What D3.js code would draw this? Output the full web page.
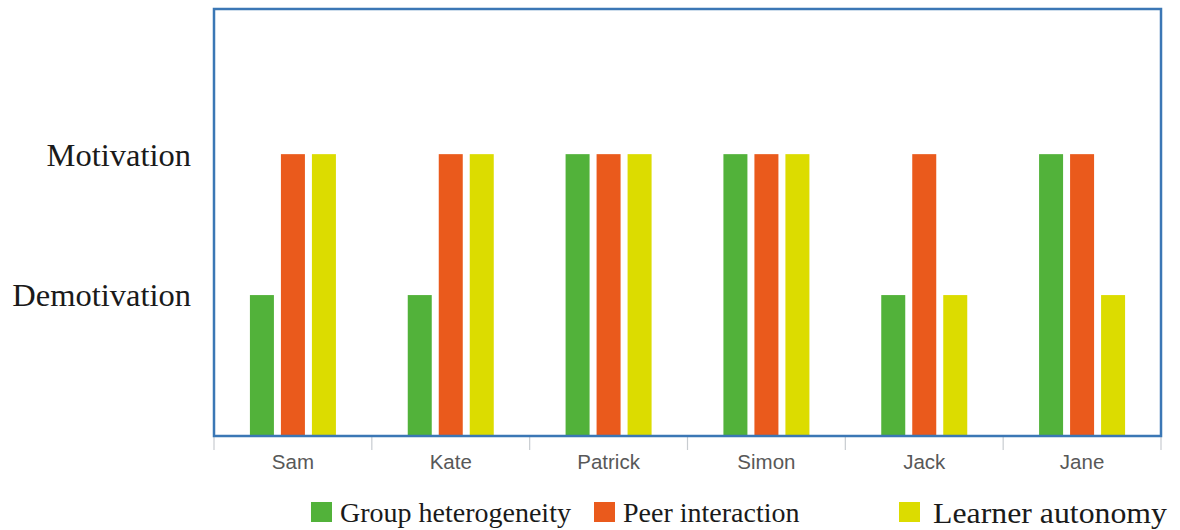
<!DOCTYPE html>
<html>
<head>
<meta charset="utf-8">
<script src="https://cdn.jsdelivr.net/npm/d3@7"></script>
<style>
  html, body { margin: 0; padding: 0; background: #fff; }
  svg { display: block; }
</style>
</head>
<body>
<svg id="chart" width="1180" height="530"></svg>
<script>
// Students and the three factors rated for each of them
const categories = ["Sam", "Kate", "Patrick", "Simon", "Jack", "Jane"];
const seriesNames = ["Group heterogeneity", "Peer interaction", "Learner autonomy"];
// 1 = Demotivation, 2 = Motivation
const groupHeterogeneity = [1, 1, 2, 2, 1, 2];
const peerInteraction    = [2, 2, 2, 2, 2, 2];
const learnerAutonomy    = [2, 2, 2, 2, 1, 1];
const levelValues = [1, 2];
const levelLabels = ["Demotivation", "Motivation"];
const seriesColors = ["#52b23a", "#ea5a1c", "#dcdc00"];

const seriesValues = [groupHeterogeneity, peerInteraction, learnerAutonomy];
const rows = categories.map((c, i) => ({
  name: c,
  values: seriesNames.map((s, j) => ({ key: s, value: seriesValues[j][i], color: seriesColors[j] }))
}));

const svg = d3.select("#chart");
const plot = { left: 214, top: 9, right: 1161, bottom: 436 };

const x = d3.scaleBand().domain(categories).range([plot.left, plot.right]).padding(0);
const groupWidth = 86;
const xi = d3.scaleBand().domain(seriesNames)
  .range([-groupWidth / 2, groupWidth / 2]).paddingInner(7 / 31).paddingOuter(0);
const y = d3.scaleLinear().domain([0, 3.03]).range([plot.bottom, plot.top]);

// Bars
const groups = svg.append("g").selectAll("g").data(rows).join("g")
  .attr("transform", d => `translate(${x(d.name) + x.bandwidth() / 2},0)`);
groups.selectAll("rect").data(d => d.values).join("rect")
  .attr("x", d => xi(d.key))
  .attr("width", xi.bandwidth())
  .attr("y", d => y(d.value))
  .attr("height", d => y(0) - y(d.value))
  .attr("fill", d => d.color);

// Category axis with separators between groups
const axisG = svg.append("g").attr("transform", `translate(0,${plot.bottom})`);
const boundaries = d3.range(categories.length + 1).map(i => plot.left + i * x.step());
axisG.selectAll("line.sep").data(boundaries).join("line")
  .attr("class", "sep")
  .attr("x1", d => d).attr("x2", d => d)
  .attr("y1", 1).attr("y2", 14)
  .attr("stroke", "#c8ccd0").attr("stroke-width", 1.2);
axisG.selectAll("text").data(categories).join("text")
  .attr("x", d => x(d) + x.bandwidth() / 2)
  .attr("y", 33)
  .attr("text-anchor", "middle")
  .attr("font-family", "Liberation Sans, Arial, sans-serif")
  .attr("font-size", 20.5)
  .attr("fill", "#585858")
  .text(d => d);

// Level labels on the left
svg.append("g").selectAll("text").data(levelValues).join("text")
  .attr("x", 191)
  .attr("y", d => y(d))
  .attr("dy", "0.35em")
  .attr("text-anchor", "end")
  .attr("font-family", "Liberation Serif, Times New Roman, serif")
  .attr("font-size", 32.5)
  .attr("fill", "#1a1a1a")
  .text((d, i) => levelLabels[i]);

// Plot frame
svg.append("rect")
  .attr("x", plot.left).attr("y", plot.top)
  .attr("width", plot.right - plot.left)
  .attr("height", plot.bottom - plot.top)
  .attr("fill", "none")
  .attr("stroke", "#3b77b5")
  .attr("stroke-width", 2.5);

// Legend
const legendItems = [
  { key: seriesNames[0], color: seriesColors[0], x: 311, tx: 29, size: 28, w: null },
  { key: seriesNames[1], color: seriesColors[1], x: 594, tx: 29, size: 28, w: null },
  { key: seriesNames[2], color: seriesColors[2], x: 899, tx: 34, size: 30, w: 234 }
];
const legend = svg.append("g").selectAll("g").data(legendItems).join("g")
  .attr("transform", d => `translate(${d.x},502)`);
legend.append("rect")
  .attr("width", 21).attr("height", 20)
  .attr("fill", d => d.color);
legend.append("text")
  .attr("x", d => d.tx).attr("y", 10)
  .attr("dy", "0.35em")
  .attr("font-family", "Liberation Serif, Times New Roman, serif")
  .attr("font-size", d => d.size)
  .attr("fill", "#1a1a1a")
  .each(function (d) {
    if (d.w) d3.select(this).attr("textLength", d.w).attr("lengthAdjust", "spacingAndGlyphs");
  })
  .text(d => d.key);
</script>
</body>
</html>
